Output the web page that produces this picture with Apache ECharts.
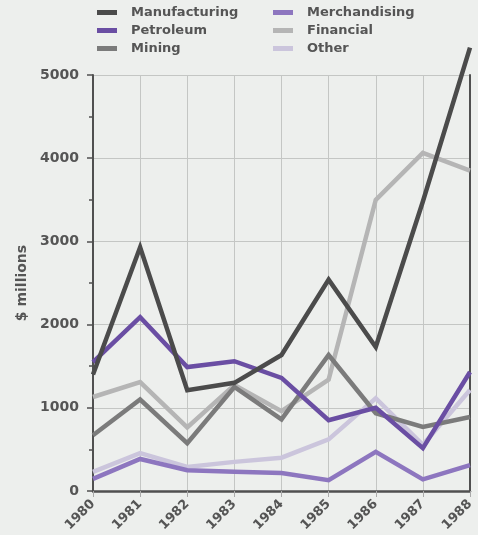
<!DOCTYPE html>
<html><head><meta charset="utf-8">
<script src="https://cdn.jsdelivr.net/npm/echarts@6/dist/echarts.min.js"></script>
<style>html,body{margin:0;padding:0;background:#edefed;}#c{width:478px;height:535px;}</style>
</head><body><div id="c"></div>
<script>
const years = ['1980','1981','1982','1983','1984','1985','1986','1987','1988'];
const manufacturing = [1400, 2930, 1210, 1300, 1635, 2540, 1730, 3480, 5330];
const petroleum = [1550, 2090, 1490, 1560, 1360, 850, 1000, 515, 1430];
const mining = [670, 1100, 575, 1250, 860, 1635, 935, 770, 890];
const merchandising = [145, 385, 250, 230, 215, 130, 470, 140, 310];
const financial = [1130, 1310, 765, 1275, 960, 1340, 3500, 4065, 3850];
const other = [230, 455, 290, 350, 400, 620, 1115, 555, 1215];
const yTicks = [0, 1000, 2000, 3000, 4000, 5000];

const txt = '#555555';
const font = 'DejaVu Sans';
const colors = {
  Manufacturing: '#4b4b4b', Petroleum: '#6a4ea3', Mining: '#7b7b7b',
  Merchandising: '#8d76bf', Financial: '#b5b5b5', Other: '#cbc5dc'
};
function line(name, data, z) {
  return { name, type: 'line', data, symbol: 'none', clip: false, z,
    lineStyle: { width: 4.5, color: colors[name], join: 'miter' }, itemStyle: { color: colors[name] } };
}
const legendCommon = { orient: 'vertical', top: 1, itemWidth: 20, itemHeight: 5, itemGap: 5, icon: 'rect',
  textStyle: { color: txt, fontFamily: font, fontWeight: 'bold', fontSize: 13, padding: [0,0,0,9] } };
const chart = echarts.init(document.getElementById('c'));
chart.setOption({
  backgroundColor: '#edefed',
  animation: false,
  legend: [
    Object.assign({ left: 92, data: ['Manufacturing', 'Petroleum', 'Mining'] }, legendCommon),
    Object.assign({ left: 268, data: ['Merchandising', 'Financial', 'Other'] }, legendCommon)
  ],
  grid: { left: 93, right: 8, top: 75, bottom: 44 },
  xAxis: {
    type: 'category', data: years, boundaryGap: false,
    axisLine: { lineStyle: { color: '#505050', width: 2.5 } },
    axisTick: { show: true, length: 6, lineStyle: { color: '#aaa' } },
    splitLine: { show: true, lineStyle: { color: '#c4c6c4', width: 1 } },
    axisLabel: { rotate: 45, color: txt, fontFamily: font, fontWeight: 'bold', fontSize: 13, margin: 11 }
  },
  yAxis: [{
    type: 'value', min: 0, max: 5000, interval: 1000,
    name: '$ millions', nameLocation: 'middle', nameRotate: 90, nameGap: 64,
    nameTextStyle: { color: txt, fontFamily: font, fontWeight: 'bold', fontSize: 14 },
    axisLine: { show: true, lineStyle: { color: '#505050', width: 2 } },
    axisTick: { show: true, length: 6, lineStyle: { color: '#505050', width: 1.5 } },
    minorTick: { show: true, splitNumber: 2, length: 4, lineStyle: { color: '#505050', width: 1.5 } },
    splitLine: { show: true, lineStyle: { color: '#c4c6c4', width: 1 } },
    axisLabel: { color: txt, fontFamily: font, fontWeight: 'bold', fontSize: 14, margin: 14,
      formatter: v => yTicks.includes(v) ? String(v) : '' }
  }, {
    type: 'value', min: 0, max: 5000, interval: 1000, position: 'right',
    axisLine: { show: true, lineStyle: { color: '#505050', width: 2 } },
    axisTick: { show: false }, axisLabel: { show: false }, splitLine: { show: false }
  }],
  series: [
    line('Other', other, 1),
    line('Financial', financial, 2),
    line('Merchandising', merchandising, 3),
    line('Mining', mining, 4),
    line('Petroleum', petroleum, 5),
    line('Manufacturing', manufacturing, 6)
  ]
});
</script></body></html>
